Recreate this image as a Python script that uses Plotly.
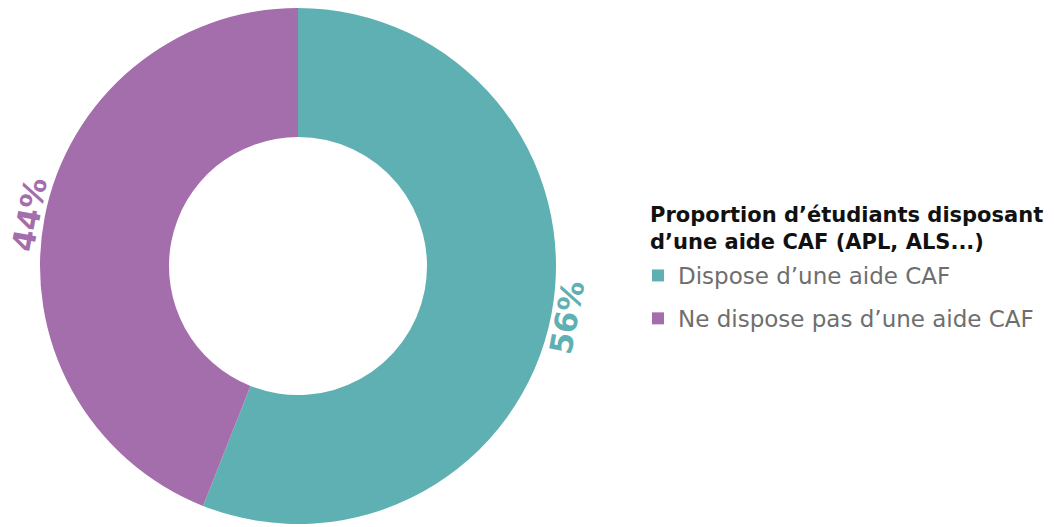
import math
import plotly.graph_objects as go

labels = ["Dispose d\u2019une aide CAF", "Ne dispose pas d\u2019une aide CAF"]
values = [56, 44]
pct_text = ["56%", "44%"]
colors = ["#5fb0b3", "#a46dab"]
legend_title = "Proportion d\u2019\u00e9tudiants disposant<br>d\u2019une aide CAF (APL, ALS...)"

W, H = 1059, 527
OFF = 8  # browser body margin
r_px = 258
cx_px = 298 - OFF
cy_px = max(265 - OFF, r_px)

fig = go.Figure(go.Pie(
    labels=labels,
    values=values,
    hole=0.5,
    sort=False,
    direction="clockwise",
    rotation=0,
    marker=dict(colors=colors, line=dict(width=0)),
    textinfo="none",
    hoverinfo="label+percent",
    showlegend=False,
    domain=dict(x=[(cx_px - r_px) / W, (cx_px + r_px) / W],
                y=[max(0, 1 - (cy_px + r_px) / H), min(1, 1 - (cy_px - r_px) / H)]),
))

# legend entries (square swatches), one group each for spacing
for lab, col in zip(labels, colors):
    fig.add_trace(go.Scatter(
        x=[None], y=[None], mode="markers", name=lab, legendgroup=lab,
        marker=dict(symbol="square", size=10, color=col),
        hoverinfo="skip",
    ))

# rotated outside percentage labels, placed at slice mid-angles
total = sum(values)
cum = 0
lab_r = 274
for v, t, c in zip(values, pct_text, colors):
    mid = (cum + v / 2) / total * 360  # clockwise from top
    cum += v
    ang = math.radians(90 - mid)
    x_px = cx_px + lab_r * math.cos(ang)
    y_px = cy_px - lab_r * math.sin(ang)
    tilt = -90 + abs(90 - (mid % 180))
    fig.add_annotation(
        x=x_px / W, y=1 - y_px / H, xref="paper", yref="paper",
        text="<b>%s</b>" % t, showarrow=False, textangle=tilt,
        xanchor="center", yanchor="middle",
        font=dict(family="DejaVu Sans", size=31, color=c),
    )

# legend title
fig.add_annotation(
    x=(648 - OFF) / W, y=1 - (201 - OFF) / H, xref="paper", yref="paper",
    text="<b>%s</b>" % legend_title, showarrow=False,
    xanchor="left", yanchor="top", align="left",
    font=dict(family="DejaVu Sans", size=21, color="#111111"),
)

fig.update_layout(
    width=W, height=H,
    margin=dict(l=0, r=0, t=0, b=0),
    paper_bgcolor="white",
    plot_bgcolor="white",
    xaxis=dict(visible=False),
    yaxis=dict(visible=False),
    showlegend=True,
    legend=dict(
        x=(638 - OFF) / W, y=1 - (254 - OFF) / H, xanchor="left", yanchor="top",
        font=dict(family="DejaVu Sans", size=23, color="#6e6e6e"),
        itemsizing="constant",
        tracegroupgap=10,
        bgcolor="rgba(0,0,0,0)",
    ),
)

fig.write_html("out.html")
